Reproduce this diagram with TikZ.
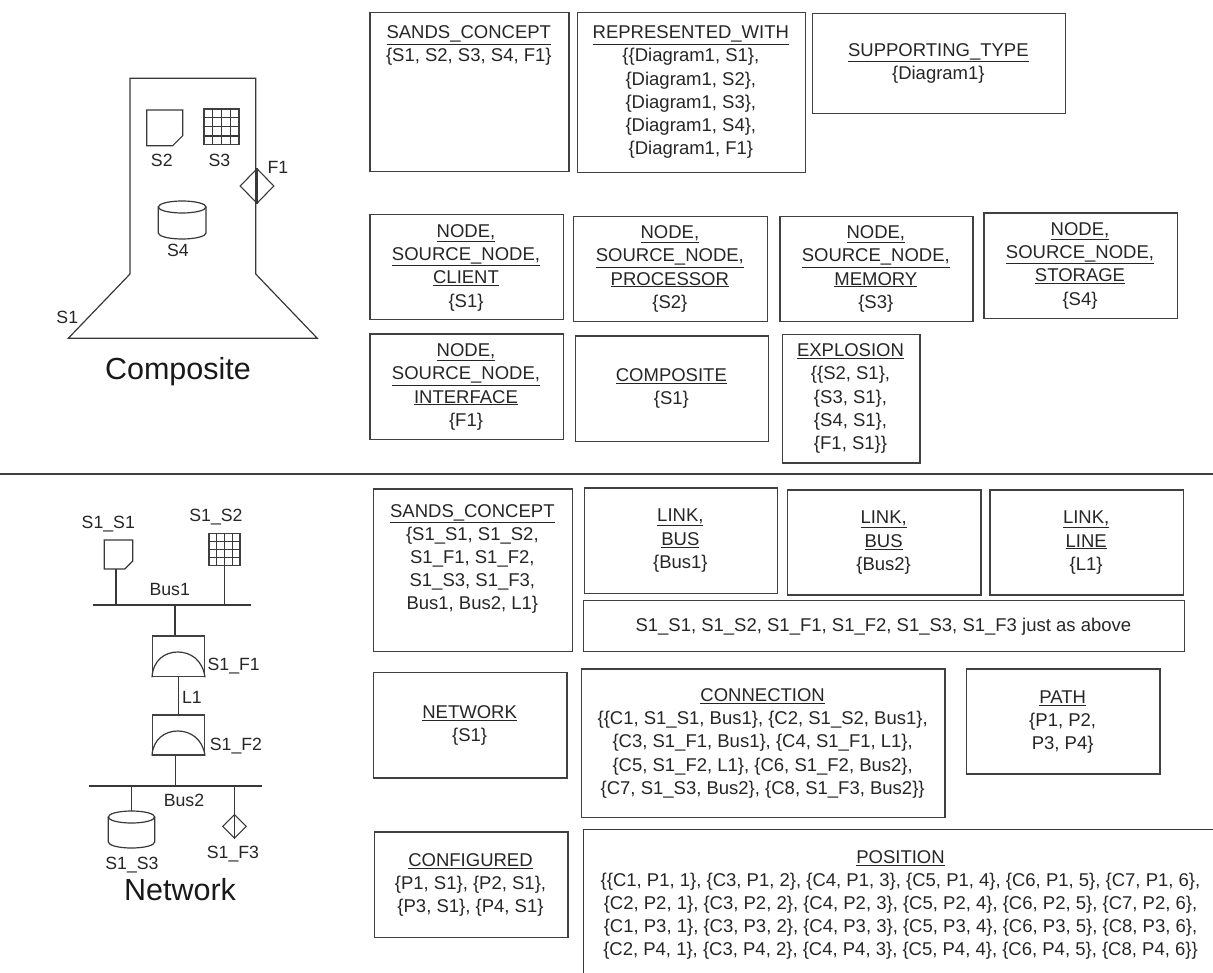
\documentclass[tikz,border=0pt]{standalone}
\usepackage{fontspec}
\setmainfont{Liberation Sans}
\usetikzlibrary{calc,shapes.geometric}
\tikzset{
  ln/.style={draw=black!78,line width=1.2pt},
  thin ln/.style={draw=black!78,line width=1.1pt},
  boxn/.style={draw=black!75,line width=1.3pt,fill=white,inner sep=0pt,anchor=north west},
  txt/.style={font=\fontsize{18.5}{23.2}\selectfont,align=center,anchor=north,inner sep=0pt,text=black!85},
  lbl/.style={font=\fontsize{17.7}{20}\selectfont,inner sep=0pt,text=black!85},
  big/.style={font=\fontsize{30.5}{34}\selectfont,inner sep=0pt,text=black!90}
}
\newcommand{\bx}[7]{%
  \pgfmathsetmacro{\bw}{#4-#2}\pgfmathsetmacro{\bh}{#5-#3}%
  \pgfmathsetmacro{\bc}{(#4+#2)/2}%
  \node[boxn,minimum width=\bw pt,minimum height=\bh pt] (#1) at (#2,#3) {};
  \node[txt] (#1t) at (\bc,#6) {#7};}
\newcommand{\gridn}[5]{% name x1 y1 x2 y2
  \node[boxn,minimum width=#4pt-#2pt,minimum height=#5pt-#3pt] (#1) at (#2,#3) {};
  \foreach \k in {1,2,3}{
    \draw[thin ln] ($(#1.north west)!\k/4!(#1.north east)$) -- ($(#1.south west)!\k/4!(#1.south east)$);
    \draw[thin ln] ($(#1.north west)!\k/4!(#1.south west)$) -- ($(#1.north east)!\k/4!(#1.south east)$);
  }}
\newcommand{\chamf}[6]{% name x1 y1 x2 y2 cut
  \draw[ln] (#2,#3) -- (#4,#3) -- (#4,#5-#6) -- (#4-#6,#5) -- (#2,#5) -- cycle;
  \node[coordinate] (#1) at (#2/2+#4/2,#5) {};}
\newcommand{\cyl}[5]{% name x1 ytop x2 ybot
  \pgfmathsetmacro{\cx}{(#2+#4)/2}\pgfmathsetmacro{\rx}{(#4-#2)/2}%
  \draw[ln] (\cx,#3) ellipse [x radius=\rx pt,y radius=6pt];
  \draw[ln] (#2,#3) -- (#2,#5) arc[start angle=180,end angle=360,x radius=\rx pt,y radius=6pt] -- (#4,#3);
  \node[coordinate] (#1) at (\cx,#3-6) {};}
\begin{document}
\begin{tikzpicture}[x=1pt,y=-1pt]
\useasboundingbox (0,0) rectangle (1213,973);
% Composite
\draw[ln] (130,78.3) -- (255.7,78.3) -- (255.7,274) -- (317.3,338.3) -- (68.3,338.3) -- (130,274) -- cycle;
\chamf{cs2}{146.7}{110}{182.7}{145.7}{10}
\gridn{cs3}{203.3}{108.3}{238.3}{144}
\node[diamond,draw=black!78,line width=1.1pt,minimum width=34pt,minimum height=35pt,inner sep=0pt] (cf1) at (257,186) {};
\cyl{cs4}{158.3}{207}{206}{233}
\node[lbl] (ls2) at (161.8,160) {S2};
\node[lbl] (ls3) at (219.5,160) {S3};
\node[lbl] (lf1) at (278,167.7) {F1};
\node[lbl] (ls4) at (178,250) {S4};
\node[lbl] (ls1) at (67.3,317) {S1};
\node[big] (lcomp) at (178,372) {Composite};
\draw[ln] (cf1.north) -- (cf1.south);
% divider
\node[coordinate] (da) at (0,474) {};
\node[coordinate] (db) at (1213,474) {};
\draw[draw=black!75,line width=1.5pt] (da) -- (db);
% Top boxes
\bx{a1}{369.3}{12}{568.3}{171}{25.6}{\underline{SANDS\_CONCEPT}\\\{S1, S2, S3, S4, F1\}}
\bx{a2}{576.7}{12}{805}{172}{25.6}{\underline{REPRESENTED\_WITH}\\\{\{Diagram1, S1\},\\\{Diagram1, S2\},\\\{Diagram1, S3\},\\\{Diagram1, S4\},\\\{Diagram1, F1\}}
\bx{a3}{811.7}{13}{1065}{112.7}{43.3}{\underline{SUPPORTING\_TYPE}\\\{Diagram1\}}
\bx{b1}{369.3}{214}{562.7}{319}{224.3}{\underline{NODE,}\\\underline{SOURCE\_NODE,}\\\underline{CLIENT}\\\{S1\}}
\bx{b2}{573}{215.7}{766.7}{321}{225.6}{\underline{NODE,}\\\underline{SOURCE\_NODE,}\\\underline{PROCESSOR}\\\{S2\}}
\bx{b3}{779.3}{215.7}{972.3}{321}{225.6}{\underline{NODE,}\\\underline{SOURCE\_NODE,}\\\underline{MEMORY}\\\{S3\}}
\bx{b4}{983.3}{212.3}{1176.7}{317.7}{222.3}{\underline{NODE,}\\\underline{SOURCE\_NODE,}\\\underline{STORAGE}\\\{S4\}}
\bx{c1}{369.3}{333.3}{562.7}{439}{343.6}{\underline{NODE,}\\\underline{SOURCE\_NODE,}\\\underline{INTERFACE}\\\{F1\}}
\bx{c2}{574.7}{335.3}{768}{440.7}{368.3}{\underline{COMPOSITE}\\\{S1\}}
\bx{c3}{781.7}{333.7}{919.3}{462.3}{343.6}{\underline{EXPLOSION}\\\{\{S2, S1\},\\\{S3, S1\},\\\{S4, S1\},\\\{F1, S1\}\}}
% Bottom boxes
\bx{d1}{373}{488.3}{571.7}{651}{504}{\underline{SANDS\_CONCEPT}\\\{S1\_S1, S1\_S2,\\S1\_F1, S1\_F2,\\S1\_S3, S1\_F3,\\Bus1, Bus2, L1\}}
\bx{d2}{583.7}{487.3}{777}{592.7}{509}{\underline{LINK,}\\\underline{BUS}\\\{Bus1\}}
\bx{d3}{787}{489.3}{980.3}{594.3}{511}{\underline{LINK,}\\\underline{BUS}\\\{Bus2\}}
\bx{d4}{989.3}{489.3}{1183}{594.3}{511}{\underline{LINK,}\\\underline{LINE}\\\{L1\}}
\bx{d5}{582.7}{600}{1184}{651}{618.3}{S1\_S1, S1\_S2, S1\_F1, S1\_F2, S1\_S3, S1\_F3 just as above}
\bx{e1}{373}{672}{566.3}{777.3}{705.6}{\underline{NETWORK}\\\{S1\}}
\bx{e2}{581}{668.3}{944.3}{816.7}{688.3}{\underline{CONNECTION}\\\{\{C1, S1\_S1, Bus1\}, \{C2, S1\_S2, Bus1\},\\\{C3, S1\_F1, Bus1\}, \{C4, S1\_F1, L1\},\\\{C5, S1\_F2, L1\}, \{C6, S1\_F2, Bus2\},\\\{C7, S1\_S3, Bus2\}, \{C8, S1\_F3, Bus2\}\}}
\bx{e3}{966}{668.3}{1159.3}{773.3}{690.6}{\underline{PATH}\\\{P1, P2,\\P3, P4\}}
\bx{f1}{373.7}{831.3}{567.3}{936.7}{853.3}{\underline{CONFIGURED}\\\{P1, S1\}, \{P2, S1\},\\\{P3, S1\}, \{P4, S1\}}
\node[coordinate] (fa) at (583.7,973) {};
\node[coordinate] (fb) at (583.7,829.5) {};
\node[coordinate] (fc) at (1213,829.5) {};
\draw[ln] (fa) -- (fb) -- (fc);
\node[txt] (f2t) at (900.5,850) {\underline{POSITION}\\\{\{C1, P1, 1\}, \{C3, P1, 2\}, \{C4, P1, 3\}, \{C5, P1, 4\}, \{C6, P1, 5\}, \{C7, P1, 6\},\\\{C2, P2, 1\}, \{C3, P2, 2\}, \{C4, P2, 3\}, \{C5, P2, 4\}, \{C6, P2, 5\}, \{C7, P2, 6\},\\\{C1, P3, 1\}, \{C3, P3, 2\}, \{C4, P3, 3\}, \{C5, P3, 4\}, \{C6, P3, 5\}, \{C8, P3, 6\},\\\{C2, P4, 1\}, \{C3, P4, 2\}, \{C4, P4, 3\}, \{C5, P4, 4\}, \{C6, P4, 5\}, \{C8, P4, 6\}\}};
% Network
\chamf{ns1}{104.3}{540}{132.7}{569}{8}
\gridn{ns2}{208.3}{532.7}{239.3}{565}
\node[coordinate] (b1l) at (93,605) {};
\node[coordinate] (b1r) at (251,605) {};
\draw[ln] (b1l) -- (b1r);
\node[coordinate] (j1) at (116,605) {};
\node[coordinate] (j2) at (223.5,605) {};
\node[coordinate] (j3) at (175,605) {};
\node[coordinate] (ns1b) at (116,569) {};
\draw[ln] (ns1b) -- (j1);
\draw[ln] (ns2.south) -- (ns2.south |- j2);
\node[boxn,minimum width=51.7pt,minimum height=40.7pt] (nf1) at (152,635.3) {};
\node[boxn,minimum width=51.7pt,minimum height=40pt] (nf2) at (152,714.3) {};
\draw[ln] (j3) -- (j3 |- nf1.north);
\draw[ln] (nf1.south west) .. controls (153,660) and (165,652) .. (177.8,652) .. controls (190.5,652) and (202.7,660) .. (nf1.south east);
\draw[ln] (nf2.south west) .. controls (153,739) and (165,731) .. (177.8,731) .. controls (190.5,731) and (202.7,739) .. (nf2.south east);
\draw[ln] (nf1.south) -- (nf2.north);
\node[coordinate] (b2l) at (89,786) {};
\node[coordinate] (b2r) at (262,786) {};
\draw[ln] (b2l) -- (b2r);
\node[coordinate] (j4) at (175.5,786) {};
\node[coordinate] (j5) at (131.5,786) {};
\node[coordinate] (j6) at (234.5,786) {};
\draw[ln] (j4 |- nf2.south) -- (j4);
\cyl{ns3}{108.3}{817}{154.7}{842}
\draw[ln] (j5) -- (j5 |- ns3);
\node[diamond,draw=black!78,line width=1.1pt,minimum width=24pt,minimum height=24pt,inner sep=0pt] (nf3) at (234.5,826.3) {};
\draw[ln] (j6) -- (nf3.north) -- (nf3.south);
\node[lbl] (l1) at (108.3,524.3) {S1\_S1};
\node[lbl] (l2) at (216,517) {S1\_S2};
\node[lbl] (l3) at (169.7,589.5) {Bus1};
\node[lbl] (l4) at (233.7,665.7) {S1\_F1};
\node[lbl] (l5) at (192,697) {L1};
\node[lbl] (l6) at (236,746) {S1\_F2};
\node[lbl] (l7) at (184,800) {Bus2};
\node[lbl] (l8) at (233,854) {S1\_F3};
\node[lbl] (l9) at (132,865) {S1\_S3};
\node[big] (lnet) at (180,890) {Network};
\end{tikzpicture}
\end{document}
